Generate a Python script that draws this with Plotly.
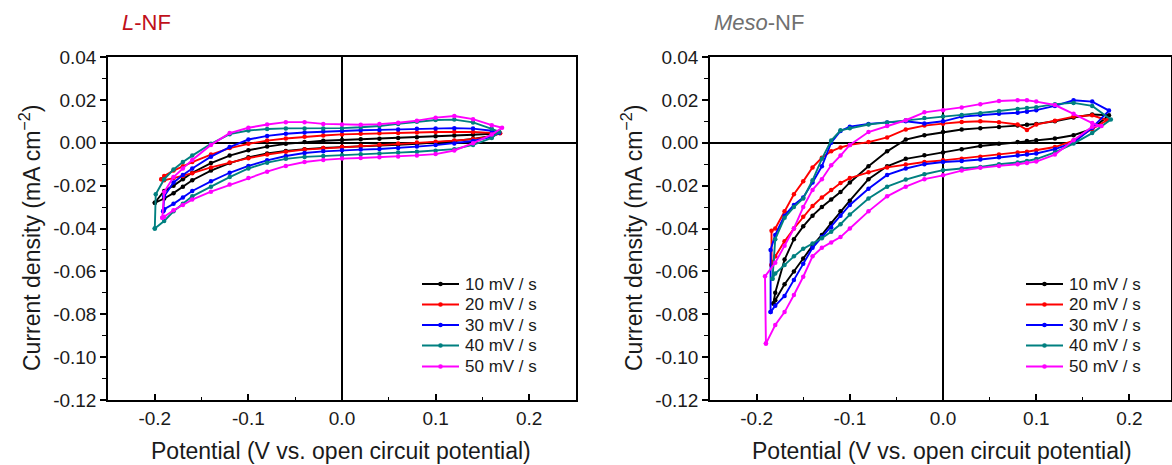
import plotly.graph_objects as go

W, H = 1172, 465

SERIES = ["10 mV / s", "20 mV / s", "30 mV / s", "40 mV / s", "50 mV / s"]
COLORS = ["#000000", "#ff0000", "#0000ff", "#008080", "#ff00ff"]

# ---------------- L-NF (left) ----------------
E_L = [-0.19, -0.18, -0.17, -0.16, -0.14, -0.12, -0.10, -0.08, -0.06, -0.04,
       -0.02, 0.00, 0.02, 0.04, 0.06, 0.08, 0.10, 0.12, 0.14, 0.16]

L_UP = [
    [-0.0225, -0.0200, -0.0170, -0.0140, -0.0095, -0.0060, -0.0035, -0.0018, -0.0005, 0.0003,
     0.0009, 0.0013, 0.0016, 0.0019, 0.0022, 0.0026, 0.0030, 0.0034, 0.0037, 0.0042],
    [-0.0155, -0.0130, -0.0110, -0.0090, -0.0055, -0.0025, -0.0005, 0.0010, 0.0020, 0.0028,
     0.0034, 0.0039, 0.0042, 0.0044, 0.0046, 0.0048, 0.0050, 0.0051, 0.0050, 0.0046],
    [-0.0250, -0.0185, -0.0150, -0.0120, -0.0065, -0.0020, 0.0015, 0.0032, 0.0042, 0.0048,
     0.0052, 0.0055, 0.0058, 0.0060, 0.0062, 0.0065, 0.0067, 0.0068, 0.0066, 0.0056],
    [-0.0170, -0.0125, -0.0090, -0.0060, -0.0005, 0.0040, 0.0057, 0.0064, 0.0067, 0.0067,
     0.0067, 0.0068, 0.0072, 0.0078, 0.0088, 0.0098, 0.0106, 0.0108, 0.0095, 0.0065],
    [-0.0230, -0.0160, -0.0120, -0.0080, -0.0010, 0.0045, 0.0070, 0.0085, 0.0096, 0.0096,
     0.0088, 0.0085, 0.0084, 0.0087, 0.0093, 0.0103, 0.0117, 0.0125, 0.0110, 0.0082],
]
L_DN = [
    [-0.0260, -0.0235, -0.0205, -0.0175, -0.0130, -0.0095, -0.0068, -0.0050, -0.0038, -0.0030,
     -0.0024, -0.0019, -0.0015, -0.0012, -0.0009, -0.0005, 0.0000, 0.0008, 0.0018, 0.0032],
    [-0.0175, -0.0165, -0.0155, -0.0142, -0.0115, -0.0092, -0.0072, -0.0055, -0.0042, -0.0032,
     -0.0025, -0.0019, -0.0014, -0.0009, -0.0004, 0.0001, 0.0005, 0.0010, 0.0017, 0.0030],
    [-0.0310, -0.0285, -0.0255, -0.0225, -0.0180, -0.0140, -0.0108, -0.0082, -0.0062, -0.0048,
     -0.0040, -0.0035, -0.0032, -0.0029, -0.0025, -0.0018, -0.0011, -0.0003, 0.0008, 0.0028],
    [-0.0365, -0.0320, -0.0285, -0.0250, -0.0205, -0.0160, -0.0120, -0.0093, -0.0075, -0.0066,
     -0.0062, -0.0058, -0.0054, -0.0050, -0.0046, -0.0042, -0.0037, -0.0030, -0.0010, 0.0022],
    [-0.0345, -0.0315, -0.0290, -0.0265, -0.0228, -0.0195, -0.0165, -0.0135, -0.0108, -0.0090,
     -0.0080, -0.0074, -0.0071, -0.0068, -0.0064, -0.0059, -0.0053, -0.0036, -0.0002, 0.0038],
]
# vertex points (negative end, listed bottom-up) and positive end
L_TIP_LO = [
    [(-0.200, -0.0280)],
    [(-0.193, -0.0170)],
    [(-0.191, -0.0320)],
    [(-0.200, -0.0400), (-0.199, -0.0240)],
    [(-0.192, -0.0350)],
]
L_TIP_HI = [
    [(0.168, 0.0045)],
    [(0.169, 0.0044)],
    [(0.168, 0.0047)],
    [(0.168, 0.0051)],
    [(0.171, 0.0070)],
]

# ---------------- Meso-NF (right) ----------------
E_R = [-0.18, -0.17, -0.16, -0.15, -0.14, -0.13, -0.12, -0.11, -0.10, -0.08, -0.06,
       -0.04, -0.02, 0.00, 0.02, 0.04, 0.06, 0.08, 0.09, 0.10, 0.12, 0.14, 0.16]

R_UP = [
    [-0.0700, -0.0545, -0.0450, -0.0390, -0.0340, -0.0300, -0.0265, -0.0230, -0.0185, -0.0110, -0.0040,
     0.0015, 0.0035, 0.0050, 0.0062, 0.0068, 0.0073, 0.0080, 0.0084, 0.0088, 0.0100, 0.0118, 0.0132],
    [-0.0400, -0.0320, -0.0240, -0.0180, -0.0115, -0.0070, -0.0040, -0.0022, -0.0010, 0.0003, 0.0025,
     0.0062, 0.0080, 0.0089, 0.0097, 0.0100, 0.0096, 0.0085, 0.0060, 0.0085, 0.0103, 0.0122, 0.0128],
    [-0.0430, -0.0340, -0.0290, -0.0255, -0.0185, -0.0110, 0.0000, 0.0055, 0.0075, 0.0088, 0.0095,
     0.0100, 0.0090, 0.0100, 0.0122, 0.0130, 0.0135, 0.0140, 0.0145, 0.0152, 0.0172, 0.0198, 0.0192],
    [-0.0450, -0.0350, -0.0300, -0.0260, -0.0175, -0.0075, 0.0010, 0.0058, 0.0068, 0.0085, 0.0095,
     0.0105, 0.0115, 0.0122, 0.0130, 0.0138, 0.0148, 0.0158, 0.0162, 0.0166, 0.0180, 0.0186, 0.0172],
    [-0.0560, -0.0480, -0.0400, -0.0300, -0.0220, -0.0170, -0.0105, -0.0060, -0.0010, 0.0050, 0.0078,
     0.0105, 0.0142, 0.0152, 0.0165, 0.0180, 0.0195, 0.0198, 0.0198, 0.0192, 0.0176, 0.0135, 0.0092],
]
R_DN = [
    [-0.0735, -0.0660, -0.0600, -0.0540, -0.0480, -0.0430, -0.0375, -0.0320, -0.0270, -0.0170, -0.0110,
     -0.0075, -0.0058, -0.0045, -0.0030, -0.0015, -0.0005, 0.0003, 0.0008, 0.0012, 0.0020, 0.0035, 0.0065],
    [-0.0530, -0.0460, -0.0400, -0.0345, -0.0295, -0.0255, -0.0220, -0.0188, -0.0165, -0.0138, -0.0115,
     -0.0102, -0.0090, -0.0082, -0.0075, -0.0065, -0.0055, -0.0045, -0.0042, -0.0035, -0.0020, 0.0010, 0.0065],
    [-0.0760, -0.0715, -0.0640, -0.0565, -0.0490, -0.0440, -0.0395, -0.0340, -0.0290, -0.0215, -0.0150,
     -0.0120, -0.0100, -0.0090, -0.0085, -0.0078, -0.0068, -0.0060, -0.0055, -0.0050, -0.0030, 0.0000, 0.0070],
    [-0.0610, -0.0570, -0.0530, -0.0495, -0.0470, -0.0445, -0.0415, -0.0380, -0.0335, -0.0260, -0.0205,
     -0.0172, -0.0147, -0.0128, -0.0120, -0.0113, -0.0100, -0.0092, -0.0085, -0.0076, -0.0045, -0.0004, 0.0045],
    [-0.0850, -0.0790, -0.0710, -0.0625, -0.0530, -0.0490, -0.0465, -0.0440, -0.0400, -0.0320, -0.0250,
     -0.0205, -0.0170, -0.0152, -0.0130, -0.0117, -0.0108, -0.0100, -0.0095, -0.0088, -0.0055, 0.0012, 0.0075],
]
R_TIP_LO = [
    [(-0.182, -0.0750)],
    [(-0.184, -0.0570), (-0.184, -0.0410)],
    [(-0.185, -0.0790), (-0.185, -0.0500)],
    [(-0.183, -0.0634)],
    [(-0.190, -0.0937), (-0.191, -0.0623)],
]
R_TIP_HI = [
    [(0.178, 0.0128)],
    [(0.176, 0.0105)],
    [(0.178, 0.0150)],
    [(0.180, 0.0108)],
    [(0.170, 0.0078)],
]

Y_TICKS = [-0.12, -0.10, -0.08, -0.06, -0.04, -0.02, 0.00, 0.02, 0.04]
Y_TICKTEXT = ["-0.12", "-0.10", "-0.08", "-0.06", "-0.04", "-0.02", "0.00", "0.02", "0.04"]
Y_MINOR = [-0.11, -0.09, -0.07, -0.05, -0.03, -0.01, 0.01, 0.03]
X_TICKS = [-0.2, -0.1, 0.0, 0.1, 0.2]
X_TICKTEXT = ["-0.2", "-0.1", "0.0", "0.1", "0.2"]
X_MINOR = [-0.15, -0.05, 0.05, 0.15]

FONT = "Liberation Sans, Arial, sans-serif"
TXT = "#1a1a1a"


def loop(grid, up, dn, lo, hi):
    e = [p[0] for p in lo] + list(grid) + [p[0] for p in hi] + list(grid)[::-1] + [lo[0][0]]
    j = [p[1] for p in lo] + list(up) + [p[1] for p in hi] + list(dn)[::-1] + [lo[0][1]]
    return e, j


fig = go.Figure()
panels = [
    (E_L, L_UP, L_DN, L_TIP_LO, L_TIP_HI, "x", "y"),
    (E_R, R_UP, R_DN, R_TIP_LO, R_TIP_HI, "x2", "y2"),
]
for grid, ups, dns, los, his, xa, ya in panels:
    for i in range(5):
        e, j = loop(grid, ups[i], dns[i], los[i], his[i])
        fig.add_trace(go.Scatter(
            x=e, y=j, mode="lines+markers", name=SERIES[i],
            line=dict(color=COLORS[i], width=1.9),
            marker=dict(color=COLORS[i], size=4.5, symbol="circle"),
            xaxis=xa, yaxis=ya, showlegend=False,
        ))

ax_common = dict(
    showgrid=False, showline=True, linecolor="black", linewidth=1.5, mirror=True,
    zeroline=True, zerolinecolor="black", zerolinewidth=1.5, automargin=False,
    tickfont=dict(family=FONT, size=19, color=TXT), tickcolor="black", tickwidth=1.5,
)
xcommon = dict(ax_common, tickvals=X_TICKS, ticktext=X_TICKTEXT, ticks="inside", ticklen=6,
               minor=dict(tickvals=X_MINOR, ticks="inside", ticklen=3, tickcolor="black", tickwidth=1.2))
ycommon = dict(ax_common, range=[-0.12, 0.04], tickvals=Y_TICKS, ticktext=Y_TICKTEXT,
               ticks="outside", ticklen=6,
               minor=dict(tickvals=Y_MINOR, ticks="outside", ticklen=4, tickcolor="black", tickwidth=1.2))


def px_x(a, b):
    return [a / W, b / W]


def px_y(top, bottom):
    return [1 - bottom / H, 1 - top / H]


fig.update_layout(
    width=W, height=H, margin=dict(l=0, r=0, t=0, b=0, autoexpand=False),
    paper_bgcolor="white", plot_bgcolor="white",
    font=dict(family=FONT, color=TXT),
    xaxis=dict(xcommon, domain=px_x(108, 576), range=[-0.25, 0.25], anchor="y"),
    yaxis=dict(ycommon, domain=px_y(57, 400), anchor="x"),
    xaxis2=dict(xcommon, domain=px_x(710, 1170.5), range=[-0.25, 0.244], anchor="y2"),
    yaxis2=dict(ycommon, domain=px_y(57, 400), anchor="x2"),
    showlegend=False,
)

ann = [
    dict(text="<i>L</i>-NF", x=120 / W, y=1 - 22 / H, xanchor="left", yanchor="middle",
         font=dict(family=FONT, size=22, color="#c0101a")),
    dict(text="<i>Meso</i>-NF", x=712 / W, y=1 - 22 / H, xanchor="left", yanchor="middle",
         font=dict(family=FONT, size=22, color="#707070")),
    dict(text="Current density (mA cm<sup>\u22122</sup>)", x=30 / W, y=1 - 238 / H, textangle=-90,
         xanchor="center", yanchor="middle", font=dict(family=FONT, size=23, color=TXT)),
    dict(text="Current density (mA cm<sup>\u22122</sup>)", x=632 / W, y=1 - 238 / H, textangle=-90,
         xanchor="center", yanchor="middle", font=dict(family=FONT, size=23, color=TXT)),
    dict(text="Potential (V vs. open circuit potential)", x=341 / W, y=1 - 451 / H,
         xanchor="center", yanchor="middle", font=dict(family=FONT, size=23, color=TXT)),
    dict(text="Potential (V vs. open circuit potential)", x=942 / W, y=1 - 451 / H,
         xanchor="center", yanchor="middle", font=dict(family=FONT, size=23, color=TXT)),
]

# legend drawn as real text + sample lines (one per panel)
LEG_ROWS = [284, 304.5, 325, 345.5, 366.5]
LEG_X = [(422, 459, 463), (1026, 1063, 1067)]
shapes = []
for (x0, x1, xt) in LEG_X:
    for i, yr in enumerate(LEG_ROWS):
        yy = 1 - yr / H
        shapes.append(dict(type="line", xref="paper", yref="paper", x0=x0 / W, x1=x1 / W,
                           y0=yy, y1=yy, line=dict(color=COLORS[i], width=2)))
        xm = (x0 + x1) / 2
        shapes.append(dict(type="circle", xref="paper", yref="paper",
                           x0=(xm - 2.3) / W, x1=(xm + 2.3) / W,
                           y0=1 - (yr + 2.3) / H, y1=1 - (yr - 2.3) / H,
                           fillcolor=COLORS[i], line=dict(color=COLORS[i], width=0)))
        ann.append(dict(text=SERIES[i], x=xt / W, y=yy, xanchor="left", yanchor="middle",
                        font=dict(family=FONT, size=17, color=TXT)))

for a in ann:
    a.update(xref="paper", yref="paper", showarrow=False)
fig.update_layout(annotations=ann, shapes=shapes)

fig.write_html("out.html")
